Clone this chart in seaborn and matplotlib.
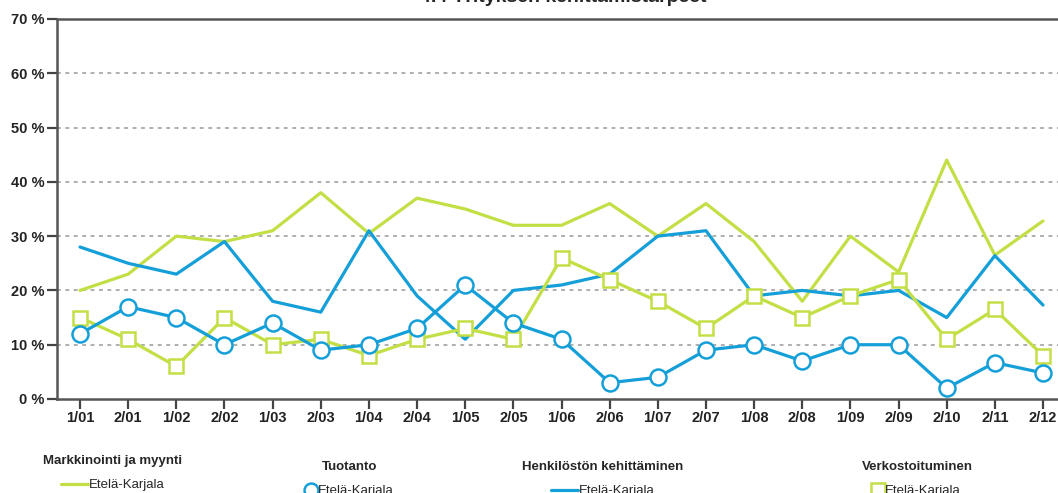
import numpy as np
import pandas as pd
import matplotlib.pyplot as plt
import seaborn as sns
from matplotlib.lines import Line2D

# --- data ---
periods = ['1/01', '2/01', '1/02', '2/02', '1/03', '2/03', '1/04', '2/04', '1/05', '2/05',
           '1/06', '2/06', '1/07', '2/07', '1/08', '2/08', '1/09', '2/09', '2/10', '2/11', '2/12']
markkinointi = [20, 23, 30, 29, 31, 38, 30.5, 37, 35, 32, 32, 36, 30, 36, 29, 18, 30, 23.4, 44, 26.5, 32.8]
tuotanto = [12, 17, 15, 10, 14, 9, 10, 13, 21, 14, 11, 3, 4, 9, 10, 7, 10, 10, 2, 6.7, 4.8]
henkilosto = [28, 25, 23, 29, 18, 16, 31, 19, 11, 20, 21, 23, 30, 31, 19, 20, 19, 20, 15, 26.4, 17.3]
verkosto = [15, 11, 6, 15, 10, 11, 8, 11, 13, 11, 26, 22, 18, 13, 19, 15, 19, 22, 11, 16.5, 8]
region = 'Etelä-Karjala'
title = '4.4 Yrityksen kehittämistarpeet'

GREEN = '#C2DF45'
BLUE = '#159FD8'

df = pd.DataFrame({'x': np.arange(len(periods)), 'markkinointi': markkinointi,
                   'tuotanto': tuotanto, 'henkilosto': henkilosto, 'verkosto': verkosto})

sns.set_style('white')
plt.rcParams['font.family'] = ['Liberation Sans', 'DejaVu Sans']

fig = plt.figure(figsize=(10.58, 4.93), dpi=100)
ax = fig.add_axes([57 / 1058, 1 - 399 / 493, 21 * 48.15 / 1058, 380 / 493])

lw = 2.3
sns.lineplot(data=df, x='x', y='markkinointi', color=GREEN, lw=lw, ax=ax)
sns.lineplot(data=df, x='x', y='henkilosto', color=BLUE, lw=lw, ax=ax)
sns.lineplot(data=df, x='x', y='verkosto', color=GREEN, lw=lw, marker='s', ms=10.5,
             mfc='white', mec=GREEN, mew=1.8, ax=ax)
sns.lineplot(data=df, x='x', y='tuotanto', color=BLUE, lw=lw, marker='o', ms=11.5,
             mfc='white', mec=BLUE, mew=1.8, ax=ax)

ax.set_xlim(-0.478, 20.522)
ax.set_ylim(0, 70)
ax.set_xticks(df['x'])
ax.set_xticklabels(periods)
ax.set_yticks(range(0, 71, 10))
ax.set_yticklabels([f'{v} %' for v in range(0, 71, 10)])
ax.set_xlabel('')
ax.set_ylabel('')
for lab in ax.get_xticklabels() + ax.get_yticklabels():
    lab.set_fontweight('bold')
    lab.set_fontsize(10.5)
    lab.set_color('#222222')
ax.tick_params(axis='both', direction='out', length=7, width=1.6, color='#444444',
               bottom=True, left=True, pad=2)

for v in range(10, 70, 10):
    ax.axhline(v, color='#999999', lw=1.1, ls=(0, (2.5, 3)), zorder=0)
ax.spines['right'].set_visible(False)
for s in ['left', 'bottom', 'top']:
    ax.spines[s].set_color('#555555')
    ax.spines[s].set_linewidth(1.8)

# title is mostly cropped off the top in the reference
fig.text(563 / 1058, 1 - 2 / 493, title, ha='center', va='baseline',
         fontsize=14, fontweight='bold')

# --- legends below the chart ---
legends = [
    ('Markkinointi ja myynti', Line2D([], [], color=GREEN, lw=lw), 113, 448),
    ('Tuotanto', Line2D([], [], color=BLUE, lw=0, marker='o', ms=10, mfc='white', mec=BLUE, mew=1.8), 350, 454),
    ('Henkilöstön kehittäminen', Line2D([], [], color=BLUE, lw=lw), 603, 454),
    ('Verkostoituminen', Line2D([], [], color=GREEN, lw=0, marker='s', ms=10, mfc='white', mec=GREEN, mew=1.8), 917, 454),
]
for name, handle, cx, top in legends:
    leg = fig.legend([handle], [region], title=name, loc='upper center',
                     bbox_to_anchor=(cx / 1058, 1 - top / 493), frameon=False,
                     fontsize=9.5, title_fontproperties={'weight': 'bold', 'size': 9.5},
                     handlelength=2.0 if handle.get_marker() in (None, 'None') else 0.8,
                     handletextpad=0.1, borderpad=0, labelspacing=0)
    leg._legend_box.sep = 9

fig.savefig('out.png', dpi=100)
